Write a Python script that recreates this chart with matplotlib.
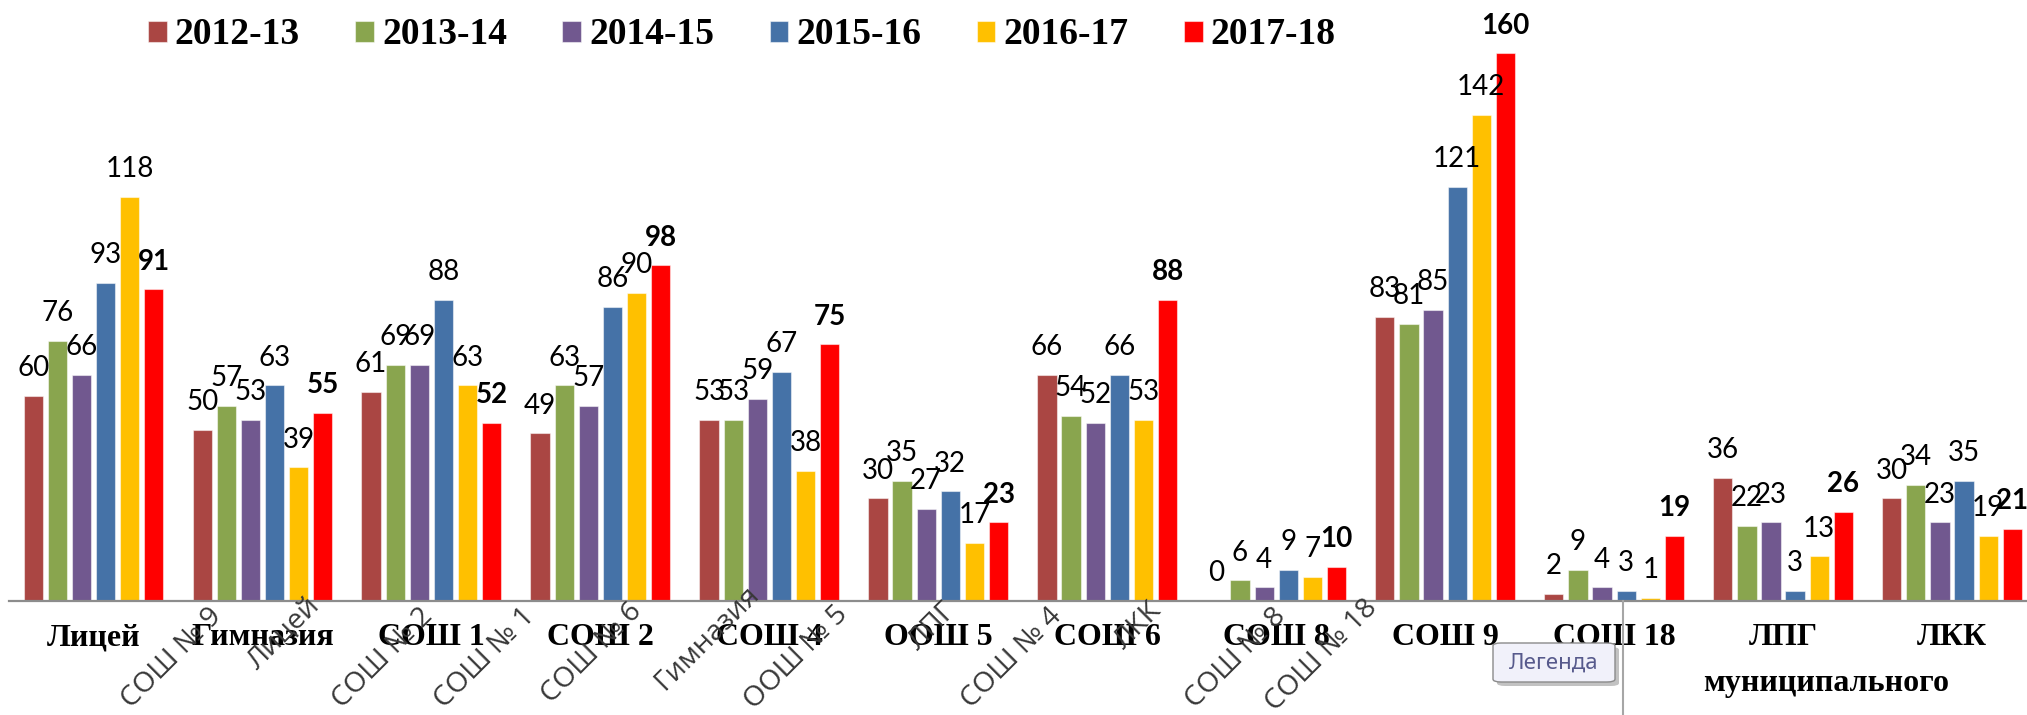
import matplotlib
matplotlib.use("Agg")
import matplotlib.pyplot as plt
from matplotlib.patches import FancyBboxPatch
from matplotlib.lines import Line2D
import numpy as np

W, H = 2027, 715

categories = ["Лицей", "Гимназия", "СОШ 1", "СОШ 2", "СОШ 4", "ООШ 5",
              "СОШ 6", "СОШ 8", "СОШ 9", "СОШ 18", "ЛПГ", "ЛКК"]
years = ["2012-13", "2013-14", "2014-15", "2015-16", "2016-17", "2017-18"]

v_2012_13 = [60, 50, 61, 49, 53, 30, 66, 0, 83, 2, 36, 30]
v_2013_14 = [76, 57, 69, 63, 53, 35, 54, 6, 81, 9, 22, 34]
v_2014_15 = [66, 53, 69, 57, 59, 27, 52, 4, 85, 4, 23, 23]
v_2015_16 = [93, 63, 88, 86, 67, 32, 66, 9, 121, 3, 3, 35]
v_2016_17 = [118, 39, 63, 90, 38, 17, 53, 7, 142, 1, 13, 19]
v_2017_18 = [91, 55, 52, 98, 75, 23, 88, 10, 160, 19, 26, 21]
series = [v_2012_13, v_2013_14, v_2014_15, v_2015_16, v_2016_17, v_2017_18]

colors = ["#AA4643", "#89A54E", "#71588F", "#4572A7", "#FFC000", "#FF0000"]

# overlaid rotated labels from an underlying chart (visible in the reference)
ghost_labels = ["СОШ № 9", "Лицей", "СОШ № 2", "СОШ № 1", "СОШ № 6", "Гимназия",
                "ООШ № 5", "ЛПГ", "СОШ № 4", "ЛКК", "СОШ № 8", "СОШ № 18"]
ghost_pos = [(172, 658), (284, 634), (383, 658), (485, 658), (592, 653), (707, 638),
             (796, 658), (933, 626), (1012, 658), (1138, 626), (1236, 658), (1322, 655)]

fig = plt.figure(figsize=(W / 100, H / 100), dpi=100)
ax = fig.add_axes([9 / W, 114 / H, 1 - 9 / W, 582 / H])

pitch = 0.1427
bw = 0.114
x = np.arange(len(categories))
for k, (vals, col, yr) in enumerate(zip(series, colors, years)):
    xs = x + (k - 2.5) * pitch
    ax.bar(xs, vals, width=bw, color=col, edgecolor=(1, 1, 1, 0.5), linewidth=0.8,
           label=yr, zorder=2)
    for xi, v in zip(xs, vals):
        ax.annotate(str(v), (xi, v), xytext=(0, 14.2), textcoords="offset points",
                    ha="center", va="baseline", fontsize=20,
                    fontfamily=["Lato", "DejaVu Sans"],
                    fontweight="bold" if k == 5 else "normal", color="black", zorder=5)

ax.set_xlim(-0.5, (W - 93) / 169.0)
ax.set_ylim(0, 170)
for s in ["top", "right", "left"]:
    ax.spines[s].set_visible(False)
ax.spines["bottom"].set_color("#8c8c8c")
ax.spines["bottom"].set_linewidth(1.6)
ax.set_yticks([])
ax.set_xticks(x)
ax.set_xticklabels(categories, fontfamily="Liberation Serif", fontweight="bold",
                   fontsize=23)
ax.tick_params(axis="x", length=0, pad=16)

leg = fig.legend(loc="center left", bbox_to_anchor=(148 / W, 1 - 35 / H), ncol=6,
                 frameon=False,
                 prop={"family": "Liberation Serif", "weight": "bold", "size": 27},
                 handlelength=0.5, handleheight=0.48, handletextpad=0.21,
                 columnspacing=1.48, borderpad=0, borderaxespad=0)

for txt, (px, py) in zip(ghost_labels, ghost_pos):
    fig.text(px / W, 1 - py / H, txt, rotation=45, rotation_mode="anchor",
             ha="center", va="center", fontsize=20.5,
             fontfamily=["Open Sans", "DejaVu Sans"], color="#383838", zorder=6)

# vertical separator line below the axis
fig.add_artist(Line2D([1623 / W, 1623 / W], [0, 114 / H], color="#a6a6a6", lw=1.5))

fig.text(1826 / W, 1 - 683 / H, "муниципального", ha="center", va="center",
         fontfamily="Liberation Serif", fontweight="bold", fontsize=23)

# "Легенда" tooltip
shadow = FancyBboxPatch((1497 / W, 1 - 686 / H), 122 / W, 39 / H,
                        boxstyle="round,pad=0,rounding_size=0.004",
                        transform=fig.transFigure, facecolor="#9a9a9a",
                        edgecolor="none", alpha=0.6, zorder=7)
fig.add_artist(shadow)
box = FancyBboxPatch((1493 / W, 1 - 682 / H), 122 / W, 39 / H,
                     boxstyle="round,pad=0,rounding_size=0.004",
                     transform=fig.transFigure, facecolor="#f1f1fa",
                     edgecolor="#8a8a8a", linewidth=1, zorder=8)
fig.add_artist(box)
fig.text(1554 / W, 1 - 663 / H, "Легенда", ha="center", va="center", fontsize=16,
         fontfamily=["Noto Sans", "DejaVu Sans"], color="#575a8c", zorder=9)

fig.savefig("out.png", dpi=100)
